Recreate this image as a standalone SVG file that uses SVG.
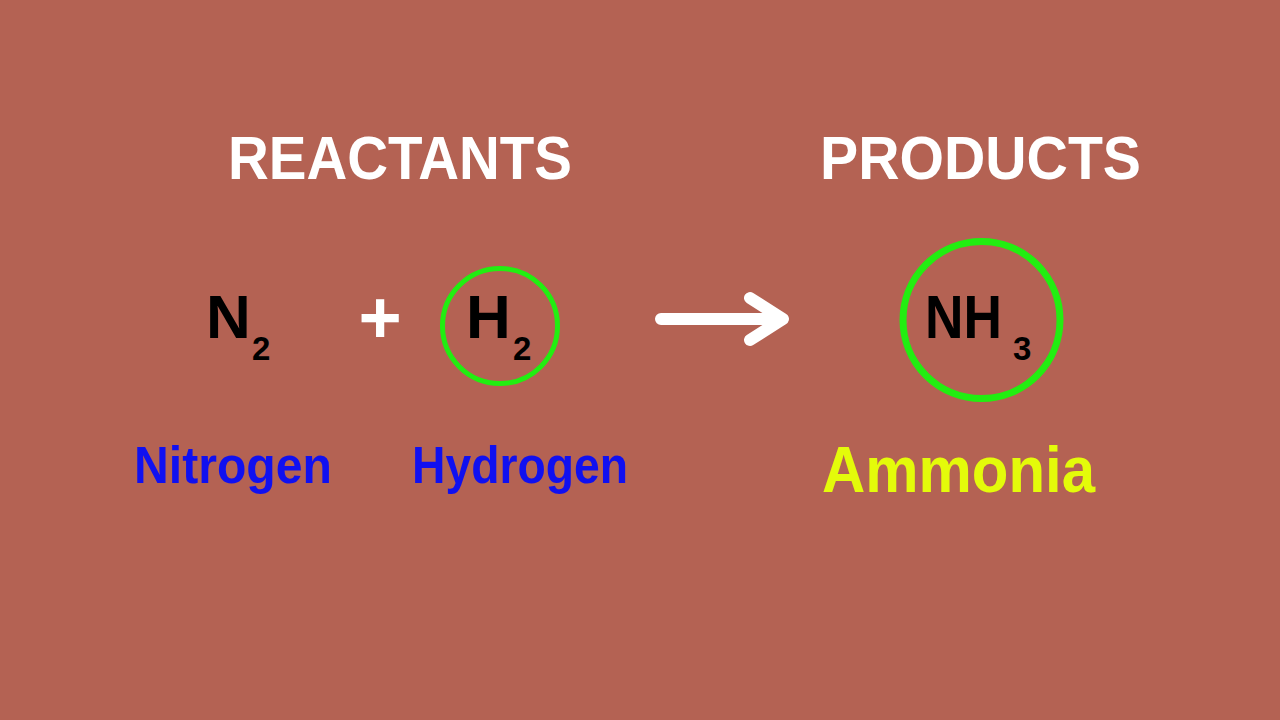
<svg xmlns="http://www.w3.org/2000/svg" width="1280" height="720" viewBox="0 0 1280 720">
<style>
.t{font-family:"Liberation Sans",Arial,sans-serif;font-weight:bold}
.hd{fill:#ffffff;font-size:62px}
.f{fill:#000000;font-size:62px}
.s{fill:#000000;font-size:33px}
.nm{fill:#1010f0;font-size:52px}
.ring{fill:none;stroke:#22ee11}
</style>
<rect x="0" y="0" width="1280" height="720" fill="#b46253"/>
<g id="reactants-title"><text class="t hd" x="228" y="179" textLength="344" lengthAdjust="spacingAndGlyphs">REACTANTS</text></g>
<g id="products-title"><text class="t hd" x="820" y="179" textLength="321" lengthAdjust="spacingAndGlyphs">PRODUCTS</text></g>
<g id="n2">
<text class="t f" x="206" y="338">N</text>
<text class="t s" x="252" y="360">2</text>
</g>
<g id="plus"><text class="t" x="380" y="343" text-anchor="middle" fill="#ffffff" font-size="74px">+</text></g>
<g id="h2">
<circle class="ring" cx="500" cy="326" r="57.5" stroke-width="5"/>
<text class="t f" x="466" y="338">H</text>
<text class="t s" x="513" y="360">2</text>
</g>
<g id="connectors">
<path d="M661 319 H783 M750 298 L783 319 L750 340" fill="none" stroke="#ffffff" stroke-width="12" stroke-linecap="round" stroke-linejoin="round"/>
</g>
<g id="nh3">
<circle class="ring" cx="981.5" cy="320" r="78.5" stroke-width="7"/>
<text class="t f" x="925" y="338" textLength="77" lengthAdjust="spacingAndGlyphs">NH</text>
<text class="t s" x="1013" y="360">3</text>
</g>
<g id="nitrogen"><text class="t nm" x="134" y="483" textLength="198" lengthAdjust="spacingAndGlyphs">Nitrogen</text></g>
<g id="hydrogen"><text class="t nm" x="412" y="483" textLength="216" lengthAdjust="spacingAndGlyphs">Hydrogen</text></g>
<g id="ammonia"><text class="t" x="822" y="492" fill="#e4fb0a" font-size="65px" textLength="273" lengthAdjust="spacingAndGlyphs">Ammonia</text></g>
</svg>
